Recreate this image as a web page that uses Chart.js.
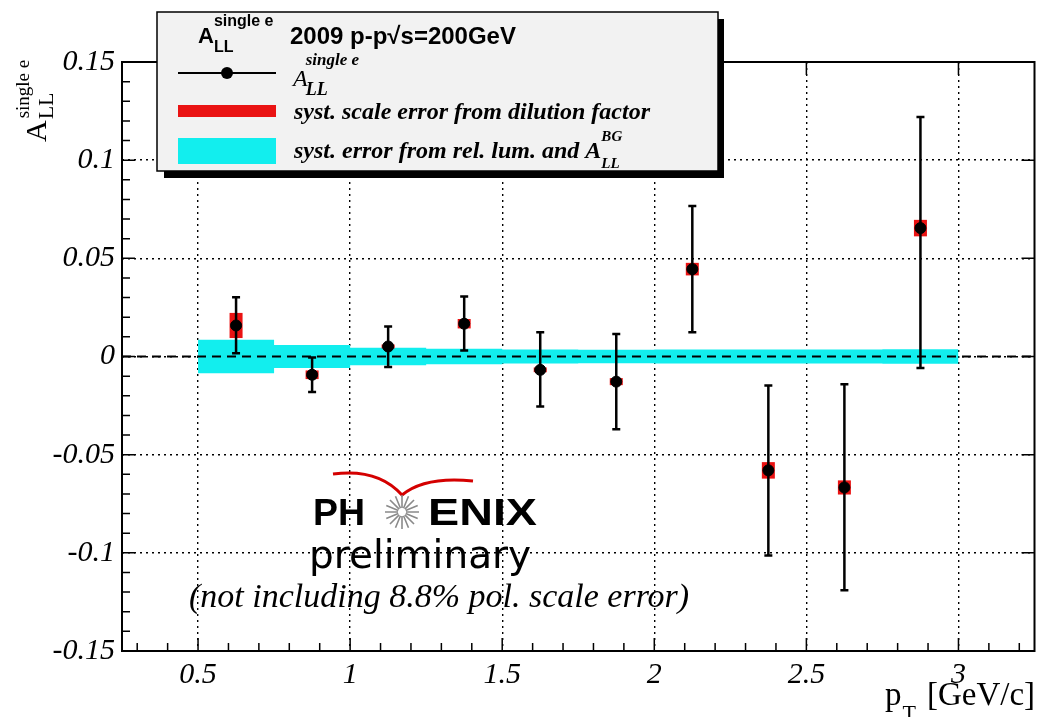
<!DOCTYPE html>
<html>
<head>
<meta charset="utf-8">
<script src="https://cdn.jsdelivr.net/npm/chart.js@4.4.1/dist/chart.umd.min.js"></script>
<style>
html, body { margin: 0; padding: 0; background: #fff; overflow: hidden; }
canvas { display: block; }
</style>
</head>
<body>
<canvas id="allChart" width="1041" height="717"></canvas>
<script>
const ctx = document.getElementById('allChart').getContext('2d');

// pT-Bins (GeV/c) und gemessene Asymmetrie
const ptBins = [0.625, 0.875, 1.125, 1.375, 1.625, 1.875, 2.125, 2.375, 2.625, 2.875];
const allValues = [0.0158, -0.0093, 0.0051, 0.0167, -0.0068, -0.0128, 0.0445, -0.0580, -0.0667, 0.0654];
const statErrUp = [0.0144, 0.0088, 0.0102, 0.0139, 0.0192, 0.0242, 0.0322, 0.0432, 0.0526, 0.0566];
const statErrDown = [0.0141, 0.0088, 0.0105, 0.0136, 0.0187, 0.0242, 0.0321, 0.0433, 0.0524, 0.0713];
// syst. Fehler aus dem Verduennungsfaktor (rote Kaestchen)
const sysDilution = [0.0064, 0.0022, 0.0010, 0.0024, 0.0012, 0.0018, 0.0032, 0.0042, 0.0036, 0.0042];
// syst. Fehler aus rel. Lumi und A_LL^BG (cyan Band), pro Bin
const bandEdges = [0.5, 0.75, 1.0, 1.25, 1.5, 1.75, 2.0, 2.25, 2.5, 2.75, 3.0];
const sysLumi = [0.0085, 0.0058, 0.0045, 0.0039, 0.0036, 0.0034, 0.0036, 0.0036, 0.0036, 0.0037];

// Achsen
const xMin = 0.25, xMax = 3.25;
const yMin = -0.15, yMax = 0.15;
const xTicks = [0.5, 1, 1.5, 2, 2.5, 3];
const xTickLabels = ['0.5', '1', '1.5', '2', '2.5', '3'];
const yTicks = [-0.15, -0.1, -0.05, 0, 0.05, 0.1, 0.15];
const yTickLabels = ['-0.15', '-0.1', '-0.05', '0', '0.05', '0.1', '0.15'];

const SERIF = "'Liberation Serif', 'Times New Roman', serif";
const SANS = "'Liberation Sans', Arial, sans-serif";
const RED = '#ea1313';
const CYAN = '#12eeee';

// Band als Stufenlinie (letzter Wert wird am rechten Rand wiederholt)
const bandUpper = bandEdges.map((e, i) => ({ x: e, y: sysLumi[Math.min(i, sysLumi.length - 1)] }));
const bandLower = bandEdges.map((e, i) => ({ x: e, y: -sysLumi[Math.min(i, sysLumi.length - 1)] }));

function txt(c, s, x, y, font, align) {
    c.font = font;
    c.textAlign = align || 'left';
    c.fillText(s, x, y);
    return c.measureText(s).width;
}

// Fehlerbalken und rote Kaestchen direkt vor den Punkten zeichnen
const errorBars = {
    id: 'errorBars',
    beforeDatasetDraw(chart, args) {
        if (args.index !== 0) return;
        const c = chart.ctx;
        const { x, y } = chart.scales;
        c.save();
        c.fillStyle = RED;
        ptBins.forEach((b, i) => {
            const px = x.getPixelForValue(b);
            const t = y.getPixelForValue(allValues[i] + sysDilution[i]);
            const bt = y.getPixelForValue(allValues[i] - sysDilution[i]);
            c.fillRect(px - 6.5, t, 13, bt - t);
        });
        c.strokeStyle = '#000';
        c.lineWidth = 2.5;
        ptBins.forEach((b, i) => {
            const px = x.getPixelForValue(b);
            const t = y.getPixelForValue(allValues[i] + statErrUp[i]);
            const bt = y.getPixelForValue(allValues[i] - statErrDown[i]);
            c.beginPath();
            c.moveTo(px, t); c.lineTo(px, bt);
            c.moveTo(px - 4, t); c.lineTo(px + 4, t);
            c.moveTo(px - 4, bt); c.lineTo(px + 4, bt);
            c.stroke();
        });
        c.restore();
    }
};

// Rahmen, Ticks, Legende, Achsentitel, Logo
const decorations = {
    id: 'decorations',
    afterDraw(chart) {
        const c = chart.ctx;
        const { x, y } = chart.scales;
        const { left, right, top, bottom } = chart.chartArea;
        c.save();
        c.strokeStyle = '#000';
        c.lineWidth = 1.5;
        c.beginPath();
        for (let k = 3; k <= 32; k++) {
            const px = x.getPixelForValue(k / 10);
            const major = k % 5 === 0;
            const len = major ? 13 : 8;
            c.moveTo(px, bottom); c.lineTo(px, bottom - len);
            if (major) { c.moveTo(px, top); c.lineTo(px, top + len); }
        }
        for (let k = -15; k <= 15; k++) {
            const py = y.getPixelForValue(k / 100);
            const major = k % 5 === 0;
            const len = major ? 13 : 8;
            c.moveTo(left, py); c.lineTo(left + len, py);
            if (major) { c.moveTo(right, py); c.lineTo(right - len, py); }
        }
        c.stroke();
        c.lineWidth = 2;
        c.strokeRect(left, top, right - left, bottom - top);

        // Legende mit Schatten
        c.fillStyle = '#000';
        c.fillRect(164, 19, 560, 159);
        c.fillStyle = '#f2f2f2';
        c.fillRect(157, 12, 561, 159);
        c.lineWidth = 1.5;
        c.strokeRect(157, 12, 561, 159);

        c.fillStyle = '#000';
        let w = txt(c, 'A', 198, 43, 'bold 22px ' + SANS);
        txt(c, 'LL', 198 + w, 52, 'bold 16px ' + SANS);
        txt(c, 'single e', 198 + w, 26, 'bold 16px ' + SANS);
        txt(c, '2009 p-p\u221As=200GeV', 290, 44, 'bold 24px ' + SANS);

        c.lineWidth = 2;
        c.beginPath(); c.moveTo(178, 73); c.lineTo(276, 73); c.stroke();
        c.beginPath(); c.arc(227, 73, 6, 0, Math.PI * 2); c.fill();
        w = txt(c, 'A', 293, 86, 'italic 24px ' + SERIF);
        txt(c, 'LL', 293 + w - 2, 95, 'bold italic 18px ' + SERIF);
        txt(c, 'single e', 293 + w - 2, 65, 'bold italic 17px ' + SERIF);

        c.fillStyle = RED;
        c.fillRect(178, 105, 98, 12);
        c.fillStyle = '#000';
        txt(c, 'syst. scale error from dilution factor', 294, 119, 'bold italic 24px ' + SERIF);

        c.fillStyle = CYAN;
        c.fillRect(178, 138, 98, 26);
        c.fillStyle = '#000';
        w = txt(c, 'syst. error from rel. lum. and A', 294, 158, 'bold italic 24px ' + SERIF);
        txt(c, 'BG', 294 + w, 141, 'bold italic 15px ' + SERIF);
        txt(c, 'LL', 294 + w, 168, 'bold italic 15px ' + SERIF);

        // Y-Achsentitel (gedreht)
        c.save();
        c.translate(46, 142);
        c.rotate(-Math.PI / 2);
        w = txt(c, 'A', 0, 0, '30px ' + SERIF);
        txt(c, 'LL', w + 1, 7, '22px ' + SERIF);
        txt(c, 'single e', w + 2, -17, '19px ' + SERIF);
        c.restore();

        // X-Achsentitel
        w = txt(c, 'p', 885, 705, '33px ' + SERIF);
        txt(c, 'T', 885 + w + 1, 720, '22px ' + SERIF);
        txt(c, '[GeV/c]', 927, 705, '33px ' + SERIF);

        // PHENIX preliminary
        c.strokeStyle = '#d40000';
        c.lineWidth = 3;
        c.beginPath();
        c.moveTo(333, 474);
        c.quadraticCurveTo(378, 468, 402, 495);
        c.quadraticCurveTo(425, 476, 473, 481);
        c.stroke();
        c.font = 'bold 36px ' + SANS;
        c.textAlign = 'left';
        c.save();
        c.translate(313, 525);
        c.scale(52 / c.measureText('PH').width, 1);
        c.fillText('PH', 0, 0);
        c.restore();
        c.save();
        c.translate(428, 525);
        c.scale(109 / c.measureText('ENIX').width, 1);
        c.fillText('ENIX', 0, 0);
        c.restore();
        c.strokeStyle = '#8a8a8a';
        c.lineWidth = 1.6;
        c.beginPath();
        for (let k = 0; k < 16; k++) {
            const a = k * Math.PI / 8;
            c.moveTo(402 + 4 * Math.cos(a), 512 + 4 * Math.sin(a));
            c.lineTo(402 + 17 * Math.cos(a), 512 + 17 * Math.sin(a));
        }
        c.stroke();
        txt(c, 'preliminary', 309, 568, '39px DejaVu Sans');
        txt(c, '(not including 8.8% pol. scale error)', 189, 607, 'italic 34px ' + SERIF);
        c.restore();
    }
};

const tickFont = { family: SERIF, size: 30, style: 'italic' };

new Chart(ctx, {
    type: 'scatter',
    data: {
        datasets: [
            {
                label: 'A_LL single e',
                data: ptBins.map((b, i) => ({ x: b, y: allValues[i] })),
                backgroundColor: '#000',
                borderColor: '#000',
                pointRadius: 5.5,
                order: 0
            },
            {
                label: 'zero',
                data: [{ x: xMin, y: 0 }, { x: xMax, y: 0 }],
                showLine: true,
                borderColor: '#000',
                borderWidth: 2,
                borderDash: [9, 6],
                pointRadius: 0,
                order: 1
            },
            {
                label: 'syst. error from rel. lum. and A_LL^BG',
                data: bandUpper,
                showLine: true,
                stepped: 'before',
                borderColor: 'transparent',
                borderWidth: 0,
                backgroundColor: CYAN,
                fill: '+1',
                pointRadius: 0,
                order: 2
            },
            {
                label: 'band lower',
                data: bandLower,
                showLine: true,
                stepped: 'before',
                borderColor: 'transparent',
                borderWidth: 0,
                pointRadius: 0,
                fill: false,
                order: 3
            }
        ]
    },
    options: {
        responsive: false,
        animation: false,
        devicePixelRatio: 1,
        layout: { padding: { top: 62, right: 5, left: 0, bottom: 0 } },
        plugins: { legend: { display: false }, tooltip: { enabled: false } },
        scales: {
            x: {
                type: 'linear',
                min: xMin,
                max: xMax,
                afterBuildTicks: s => { s.ticks = xTicks.map(v => ({ value: v })); },
                afterFit: s => { s.height = 66; },
                ticks: {
                    callback: (v, i) => xTickLabels[i],
                    font: tickFont,
                    color: '#000',
                    padding: 6,
                    maxRotation: 0,
                    autoSkip: false
                },
                grid: { color: '#000', lineWidth: 1.4, drawTicks: false },
                border: { display: false, dash: [2, 4] }
            },
            y: {
                min: yMin,
                max: yMax,
                afterBuildTicks: s => { s.ticks = yTicks.map(v => ({ value: v })); },
                afterFit: s => { s.width = 122; },
                ticks: {
                    callback: (v, i) => yTickLabels[i],
                    font: tickFont,
                    color: '#000',
                    padding: 7,
                    autoSkip: false
                },
                grid: { color: '#000', lineWidth: 1.4, drawTicks: false },
                border: { display: false, dash: [2, 4] }
            }
        }
    },
    plugins: [errorBars, decorations]
});
</script>
</body>
</html>
